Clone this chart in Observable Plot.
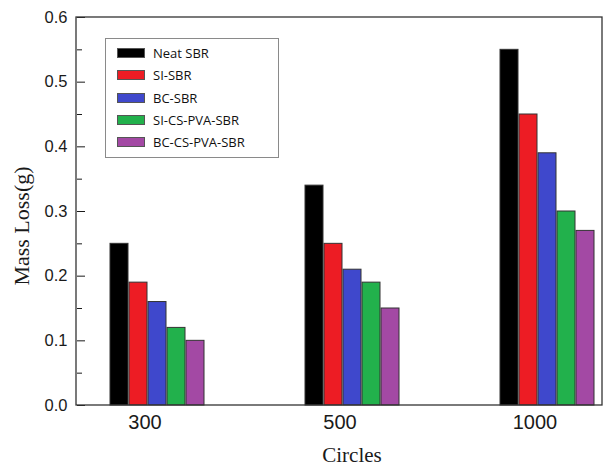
<!DOCTYPE html>
<html>
<head>
<meta charset="utf-8">
<script src="https://cdn.jsdelivr.net/npm/d3@7"></script>
<script src="https://cdn.jsdelivr.net/npm/@observablehq/plot@0.6"></script>
<style>
  body { margin: 0; background: #fff; }
  #wrap { position: relative; width: 605px; height: 466px; }
  #legend { position: absolute; left: 105px; top: 38px; width: 174px; height: 120px;
            border: 1px solid #8a8a8a; background: #fff; box-sizing: border-box;
            font-family: "Open Sans", sans-serif; font-size: 13px; color: #111; padding-top: 3px; }
  .row { display: flex; align-items: center; height: 22.3px; }
  .sw { width: 26px; height: 8px; border: 1px solid #555; margin-left: 11px; margin-right: 8px; }
</style>
</head>
<body>
<div id="wrap"></div>
<script>
const circles = ["300", "500", "1000"];
const series = ["Neat SBR", "SI-SBR", "BC-SBR", "SI-CS-PVA-SBR", "BC-CS-PVA-SBR"];
const colors = ["#000000", "#ed1c24", "#3f48cc", "#22b14c", "#a349a4"];
const neatSBR = [0.25, 0.34, 0.55];
const siSBR = [0.19, 0.25, 0.45];
const bcSBR = [0.16, 0.21, 0.39];
const siCsPvaSBR = [0.12, 0.19, 0.30];
const bcCsPvaSBR = [0.10, 0.15, 0.27];
const yMajorTicks = [0, 0.1, 0.2, 0.3, 0.4, 0.5, 0.6];
const yMinorTicks = [0.05, 0.15, 0.25, 0.35, 0.45, 0.55];

const seriesValues = [neatSBR, siSBR, bcSBR, siCsPvaSBR, bcCsPvaSBR];
const rows = [];
circles.forEach((c, i) => series.forEach((s, j) => rows.push({circles: c, series: s, value: seriesValues[j][i]})));

const chart = Plot.plot({
  width: 605,
  height: 466,
  marginLeft: 76,
  marginRight: 3,
  marginTop: 17,
  marginBottom: 61,
  style: {background: "#fff", color: "#1a1a1a"},
  fx: {domain: circles, paddingInner: 0.3095, paddingOuter: 0},
  x: {domain: series, axis: null, paddingInner: 0.05, paddingOuter: 0.987, align: 0.795},
  y: {domain: [0, 0.6]},
  color: {domain: series, range: colors},
  marks: [
    Plot.barY(rows, {fx: "circles", x: "series", y: "value", fill: "series", stroke: "#333", strokeWidth: 1}),
    Plot.axisY(yMajorTicks, {tickSize: -8, tickPadding: 18, tickFormat: d3.format(".1f"),
      fontSize: 16.5, fontFamily: "Liberation Sans, Arial, sans-serif", label: null}),
    Plot.axisY(yMinorTicks, {tickSize: -5, tickFormat: () => "", label: null}),
    Plot.axisFx({anchor: "bottom", tickSize: 0, tickPadding: 9, fontSize: 20,
      fontFamily: "Liberation Sans, Arial, sans-serif", label: null})
  ]
});

const svg = d3.select(chart.tagName.toLowerCase() === "svg" ? chart : chart.querySelector("svg"));
const fxRange = chart.scale("fx").range;
const yRange = chart.scale("y").range;
svg.append("rect")
  .attr("x", fxRange[0]).attr("y", Math.min(...yRange))
  .attr("width", fxRange[1] - fxRange[0]).attr("height", Math.abs(yRange[0] - yRange[1]))
  .attr("fill", "none").attr("stroke", "#333").attr("stroke-width", 1.3);
svg.append("text")
  .attr("transform", "translate(24,226) rotate(-90)")
  .attr("text-anchor", "middle").attr("dominant-baseline", "middle")
  .attr("font-family", "Liberation Serif, Times New Roman, serif").attr("font-size", 22).attr("fill", "#1a1a1a")
  .text("Mass Loss(g)");
svg.append("text")
  .attr("x", 352).attr("y", 462)
  .attr("text-anchor", "middle")
  .attr("font-family", "Liberation Serif, Times New Roman, serif").attr("font-size", 21).attr("fill", "#1a1a1a")
  .text("Circles");

const wrap = document.getElementById("wrap");
wrap.appendChild(chart);
const legend = document.createElement("div");
legend.id = "legend";
series.forEach((s, j) => {
  const row = document.createElement("div");
  row.className = "row";
  const sw = document.createElement("span");
  sw.className = "sw";
  sw.style.background = colors[j];
  const t = document.createElement("span");
  t.textContent = s;
  row.appendChild(sw); row.appendChild(t);
  legend.appendChild(row);
});
wrap.appendChild(legend);
</script>
</body>
</html>
